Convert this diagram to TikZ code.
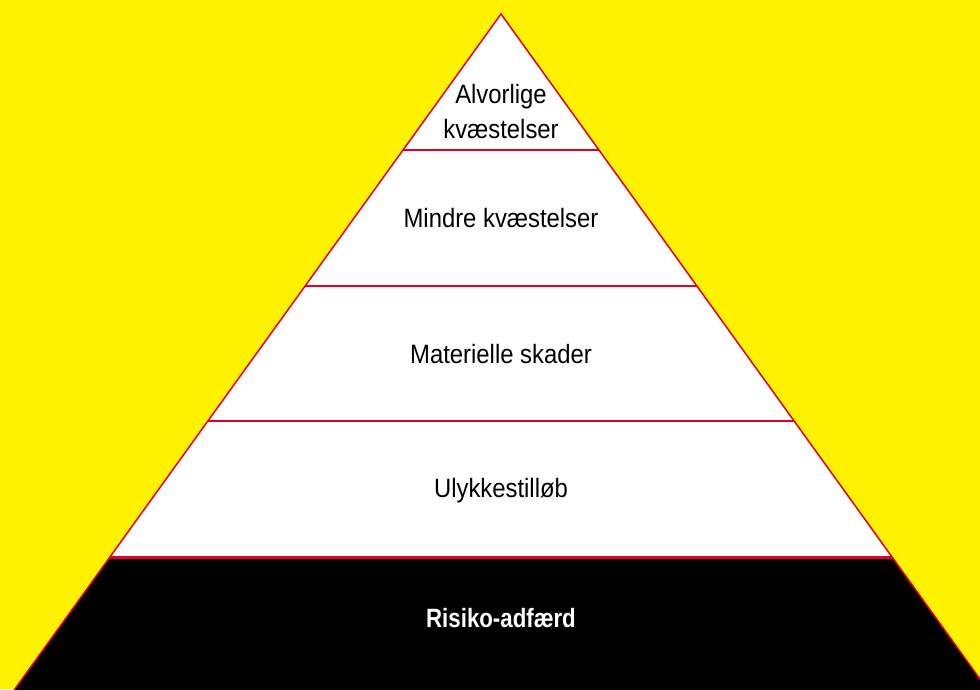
\documentclass[tikz,border=0pt]{standalone}
\usepackage{fontspec}
\setmainfont[FakeStretch=0.9]{Liberation Sans}
\newfontfamily\riskfont[FakeStretch=0.84]{Liberation Sans Bold}
\usetikzlibrary{calc}
\usetikzlibrary{positioning}
\definecolor{pyryellow}{RGB}{255,242,0}
\definecolor{pyrred}{RGB}{226,0,38}

\begin{document}
\begin{tikzpicture}[x=1pt,y=-1pt,
    levelname/.style={font=\fontsize{26.5}{35}\selectfont, align=center, anchor=base, inner sep=0pt}]
\useasboundingbox (0,0) rectangle (980,689);
\clip (0,0) rectangle (980,689);
\fill[pyryellow] (0,0) rectangle (980,689);
%pyramid
\coordinate (top) at (501,14);
\coordinate (bl) at (12,693);
\coordinate (br) at (990,693);
\fill[white] (top)--(bl)--(br)--cycle;
%bottom level
\fill[black] ($(top)!.8!(bl)$)--($(top)!.8!(br)$)--(br)--(bl)--cycle;
%level borders
\foreach \f in {.2,.4,.6}
    \draw[pyrred, line width=2pt] ($(top)!\f!(bl)$)--($(top)!\f!(br)$);
\draw[pyrred, line width=3pt] ($(top)!.8!(bl)$)--($(top)!.8!(br)$);
\draw[pyrred, line width=1.5pt, line join=miter] (bl)--(top)--(br);
%labels
\node[levelname] (serious) at (501,138) {Alvorlige\\kvæstelser};
\node[levelname] (minor) at (501,227) {Mindre kvæstelser};
\node[levelname] (damage) at (501,363) {Materielle skader};
\node[levelname] (nearmiss) at (501,497) {Ulykkestilløb};
\node[levelname, text=white, font=\fontsize{26.5}{35}\riskfont] (risk) at (501,627) {Risiko-adfærd};
\end{tikzpicture}
\end{document}
